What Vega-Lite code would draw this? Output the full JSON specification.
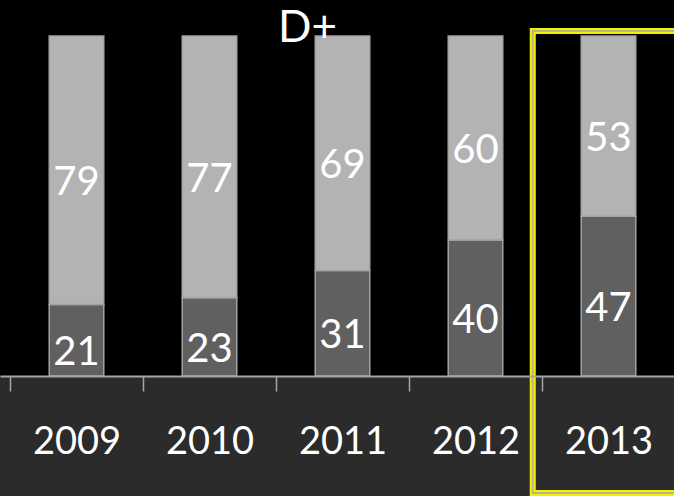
{
  "$schema": "https://vega.github.io/schema/vega-lite/v6.json",
  "width": 674,
  "height": 376,
  "autosize": {"type": "none"},
  "padding": {"left": 0, "top": 0, "right": 0, "bottom": 120},
  "background": "#2b2b2b",
  "config": {"view": {"stroke": null, "fill": "#000000"}, "font": "Lato"},
  "title": {
    "text": "D+",
    "fontSize": 44,
    "font": "Lato",
    "fontWeight": "normal",
    "color": "#ffffff",
    "anchor": "middle",
    "align": "right",
    "offset": -51
  },
  "data": {
    "values": [
      {"year": "2009", "kind": "share", "group": "lower", "order": 1, "value": 21},
      {"year": "2009", "kind": "share", "group": "upper", "order": 2, "value": 79},
      {"year": "2010", "kind": "share", "group": "lower", "order": 1, "value": 23},
      {"year": "2010", "kind": "share", "group": "upper", "order": 2, "value": 77},
      {"year": "2011", "kind": "share", "group": "lower", "order": 1, "value": 31},
      {"year": "2011", "kind": "share", "group": "upper", "order": 2, "value": 69},
      {"year": "2012", "kind": "share", "group": "lower", "order": 1, "value": 40},
      {"year": "2012", "kind": "share", "group": "upper", "order": 2, "value": 60},
      {"year": "2013", "kind": "share", "group": "lower", "order": 1, "value": 47},
      {"year": "2013", "kind": "share", "group": "upper", "order": 2, "value": 53},
      {"year": "2013", "kind": "highlight", "frameTop": 101.5, "frameBottom": -34.4}
    ]
  },
  "transform": [
    {"stack": "value", "groupby": ["year", "kind"], "sort": [{"field": "order", "order": "ascending"}], "as": ["v0", "v1"]},
    {"calculate": "(datum.v0 + datum.v1) / 2", "as": "mid"}
  ],
  "layer": [
    {
      "mark": {"type": "bar", "width": {"band": 0.41}, "stroke": "#a3a3a3", "strokeWidth": 1.5},
      "encoding": {
        "x": {
          "field": "year",
          "type": "ordinal",
          "scale": {"range": [0, 685], "paddingInner": 0, "paddingOuter": 0.0752},
          "axis": {
            "title": null,
            "zindex": 2,
            "domainColor": "#a6a6a6",
            "domainWidth": 2,
            "tickColor": "#a6a6a6",
            "tickWidth": 1.5,
            "tickSize": 15,
            "tickBand": "extent",
            "labelColor": "#ffffff",
            "labelFont": "Lato",
            "labelFontSize": 38,
            "labelAngle": 0,
            "labelBaseline": "alphabetic",
            "labelPadding": 62
          }
        },
        "y": {"field": "v1", "type": "quantitative", "scale": {"domain": [0, 110.6], "nice": false, "zero": false}, "axis": null},
        "y2": {"field": "v0"},
        "color": {
          "field": "group",
          "type": "nominal",
          "scale": {"domain": ["lower", "upper"], "range": ["#606060", "#b3b3b3"]},
          "legend": null
        }
      }
    },
    {
      "mark": {"type": "text", "color": "#ffffff", "font": "Lato", "fontSize": 40, "baseline": "middle", "dy": 13},
      "encoding": {
        "x": {"field": "year", "type": "ordinal"},
        "y": {"field": "mid", "type": "quantitative"},
        "text": {"field": "value", "type": "quantitative"}
      }
    },
    {
      "mark": {"type": "rect", "filled": false, "stroke": "#f2f200", "strokeWidth": 6, "width": {"band": 1.5}, "xOffset": 24},
      "encoding": {
        "x": {"field": "year", "type": "ordinal"},
        "y": {"field": "frameTop", "type": "quantitative"},
        "y2": {"field": "frameBottom"}
      }
    },
    {
      "mark": {"type": "rect", "filled": false, "stroke": "#b8b48c", "strokeWidth": 2, "width": {"band": 1.5}, "xOffset": 24},
      "encoding": {
        "x": {"field": "year", "type": "ordinal"},
        "y": {"field": "frameTop", "type": "quantitative"},
        "y2": {"field": "frameBottom"}
      }
    }
  ]
}
